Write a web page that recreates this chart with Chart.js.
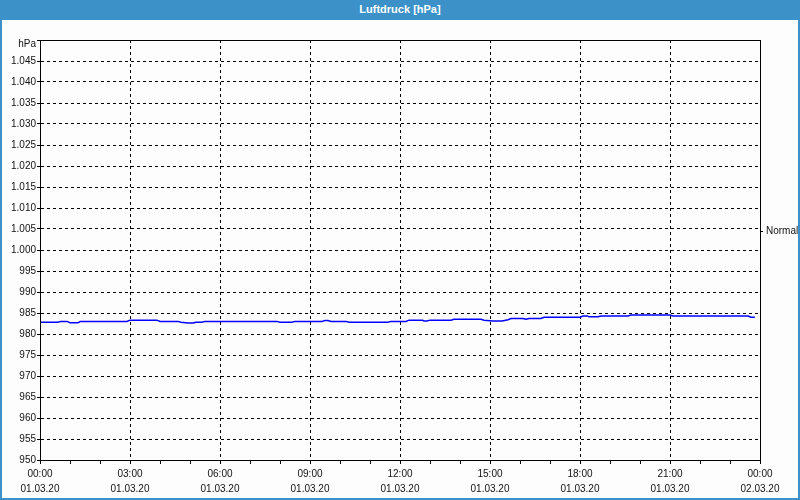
<!DOCTYPE html>
<html>
<head>
<meta charset="utf-8">
<script src="https://cdn.jsdelivr.net/npm/chart.js@4.4.1/dist/chart.umd.min.js"></script>
<style>
  html, body { margin: 0; padding: 0; }
  body { width: 800px; height: 500px; position: relative; overflow: hidden; background: #fcfdfc; }
  #frame { position: absolute; left: 0; top: 0; width: 800px; height: 500px; box-sizing: border-box;
           border: 2px solid #3c92c8; border-top: none; background: #fcfdfc; }
  #titlebar { position: absolute; left: 0; top: 0; width: 800px; height: 20px; background: #3c92c8;
              color: #fff; font: bold 11px "Liberation Sans", Arial, sans-serif; text-align: center; line-height: 19px; }
  #wrap { position: absolute; left: 0; top: 20px; width: 800px; height: 480px; }
</style>
</head>
<body>
<div id="frame"></div>
<div id="titlebar">Luftdruck [hPa]</div>
<div id="wrap"><canvas id="chart"></canvas></div>
<script>
// --- data (hours since 01.03.20 00:00, hPa) ---
const hours = [0, 0.6, 0.7, 0.9, 1.0, 1.27, 1.35, 2.9, 3.0, 3.9, 4.0, 4.6, 4.7, 4.93, 5.1, 5.2, 5.4, 5.5,
    7.9, 8.0, 8.4, 8.5, 9.4, 9.5, 9.6, 9.7, 10.2, 10.3, 11.6, 11.7, 12.2, 12.3, 12.75, 12.8, 12.9, 13.0,
    13.7, 13.8, 14.7, 14.8, 15.1, 15.4, 15.6, 15.7, 16.1, 16.2, 16.3, 16.7, 16.8, 18.0, 18.1, 18.25,
    18.3, 18.6, 18.7, 19.6, 19.7, 21.0, 21.1, 23.6, 23.7, 23.83];
const pressure = [982.8, 982.8, 983.0, 983.0, 982.7, 982.7, 983.0, 983.0, 983.3, 983.3, 983.0, 983.0, 982.8, 982.6, 982.6, 982.8, 982.8, 983.0,
    983.0, 982.8, 982.8, 983.0, 983.0, 983.2, 983.2, 983.0, 983.0, 982.8, 982.8, 983.0, 983.0, 983.3, 983.3, 983.1, 983.1, 983.3,
    983.3, 983.5, 983.5, 983.3, 983.1, 983.1, 983.4, 983.7, 983.7, 983.5, 983.7, 983.7, 984.0, 984.0, 984.3, 984.3,
    984.1, 984.1, 984.3, 984.3, 984.5, 984.5, 984.3, 984.3, 984.0, 984.0];

const timeLabels = ['00:00', '03:00', '06:00', '09:00', '12:00', '15:00', '18:00', '21:00', '00:00'];
const dateLabels = ['01.03.20', '01.03.20', '01.03.20', '01.03.20', '01.03.20', '01.03.20', '01.03.20', '01.03.20', '02.03.20'];
const yMin = 950, yMax = 1050, yStep = 5;
const yUnit = 'hPa';
const yUnitAt = 1049;          // unit label sits a little below the top edge
const normalValue = 1004.5;
const normalLabel = 'Normal';

// --- helpers ---
function formatHpa(v) {
    if (v === yUnitAt) return yUnit;
    if (v === yMax) return '';
    const s = String(Math.round(v));
    return s.length > 3 ? s.slice(0, s.length - 3) + '.' + s.slice(-3) : s;
}

const plotFrame = {
    id: 'plotFrame',
    afterDatasetsDraw(chart) {
        const a = chart.chartArea, ctx = chart.ctx;
        ctx.save();
        ctx.strokeStyle = '#000';
        ctx.lineWidth = 1;
        ctx.strokeRect(Math.round(a.left) + 0.5, Math.round(a.top) + 0.5,
            Math.round(a.right - a.left), Math.round(a.bottom - a.top));
        ctx.restore();
    }
};

const font = { family: '"Liberation Sans", Arial, sans-serif', size: 10 };
const labelColor = '#111';

new Chart(document.getElementById('chart').getContext('2d'), {
    type: 'line',
    data: {
        datasets: [{
            data: hours.map((h, i) => ({ x: h, y: pressure[i] })),
            borderColor: '#0000ff',
            borderWidth: 1.5,
            pointRadius: 0,
            tension: 0,
            fill: false
        }]
    },
    options: {
        responsive: true,
        maintainAspectRatio: false,
        animation: false,
        layout: { padding: { top: 20, left: 0, right: 0, bottom: 0 } },
        plugins: { legend: { display: false }, tooltip: { enabled: false } },
        scales: {
            x: {
                type: 'linear',
                min: 0, max: 24,
                afterFit(scale) { scale.height = 40; },
                ticks: {
                    stepSize: 1, autoSkip: false, maxRotation: 0, padding: 3,
                    color: labelColor,
                    font: Object.assign({ lineHeight: 1.5 }, font),
                    callback(v) {
                        if (v % 3 !== 0) return '';
                        const i = v / 3;
                        return [timeLabels[i], dateLabels[i]];
                    }
                },
                grid: {
                    color: ctx => (ctx.tick && ctx.tick.value % 3 === 0 && ctx.tick.value > 0 && ctx.tick.value < 24) ? '#000' : 'rgba(0,0,0,0)',
                    tickColor: '#000',
                    tickLength: 4,
                    lineWidth: 1
                },
                border: { display: true, color: '#000', dash: [3, 3] }
            },
            y: {
                min: yMin, max: yMax,
                afterFit(scale) { scale.width = 40; },
                afterBuildTicks(scale) {
                    scale.ticks.push({ value: yUnitAt });
                    scale.ticks.sort((a, b) => a.value - b.value);
                },
                ticks: {
                    stepSize: yStep, autoSkip: false, padding: 1,
                    color: labelColor, font: font,
                    callback: v => formatHpa(v)
                },
                grid: {
                    color: ctx => (ctx.tick && ctx.tick.value > yMin && ctx.tick.value < yMax - 1) ? '#000' : 'rgba(0,0,0,0)',
                    tickColor: ctx => (ctx.tick && ctx.tick.value === yUnitAt) ? 'rgba(0,0,0,0)' : '#000',
                    tickLength: 3,
                    lineWidth: 1
                },
                border: { display: true, color: '#000', dash: [3, 3] }
            },
            y2: {
                position: 'right',
                min: yMin, max: yMax,
                afterFit(scale) { scale.width = 40; },
                afterBuildTicks(scale) { scale.ticks = [{ value: normalValue }]; },
                ticks: {
                    autoSkip: false, padding: 3, color: labelColor, font: font,
                    callback: () => normalLabel
                },
                grid: { drawOnChartArea: false, tickColor: '#000', tickLength: 3 },
                border: { display: true, color: '#000' }
            }
        }
    },
    plugins: [plotFrame]
});
</script>
</body>
</html>
